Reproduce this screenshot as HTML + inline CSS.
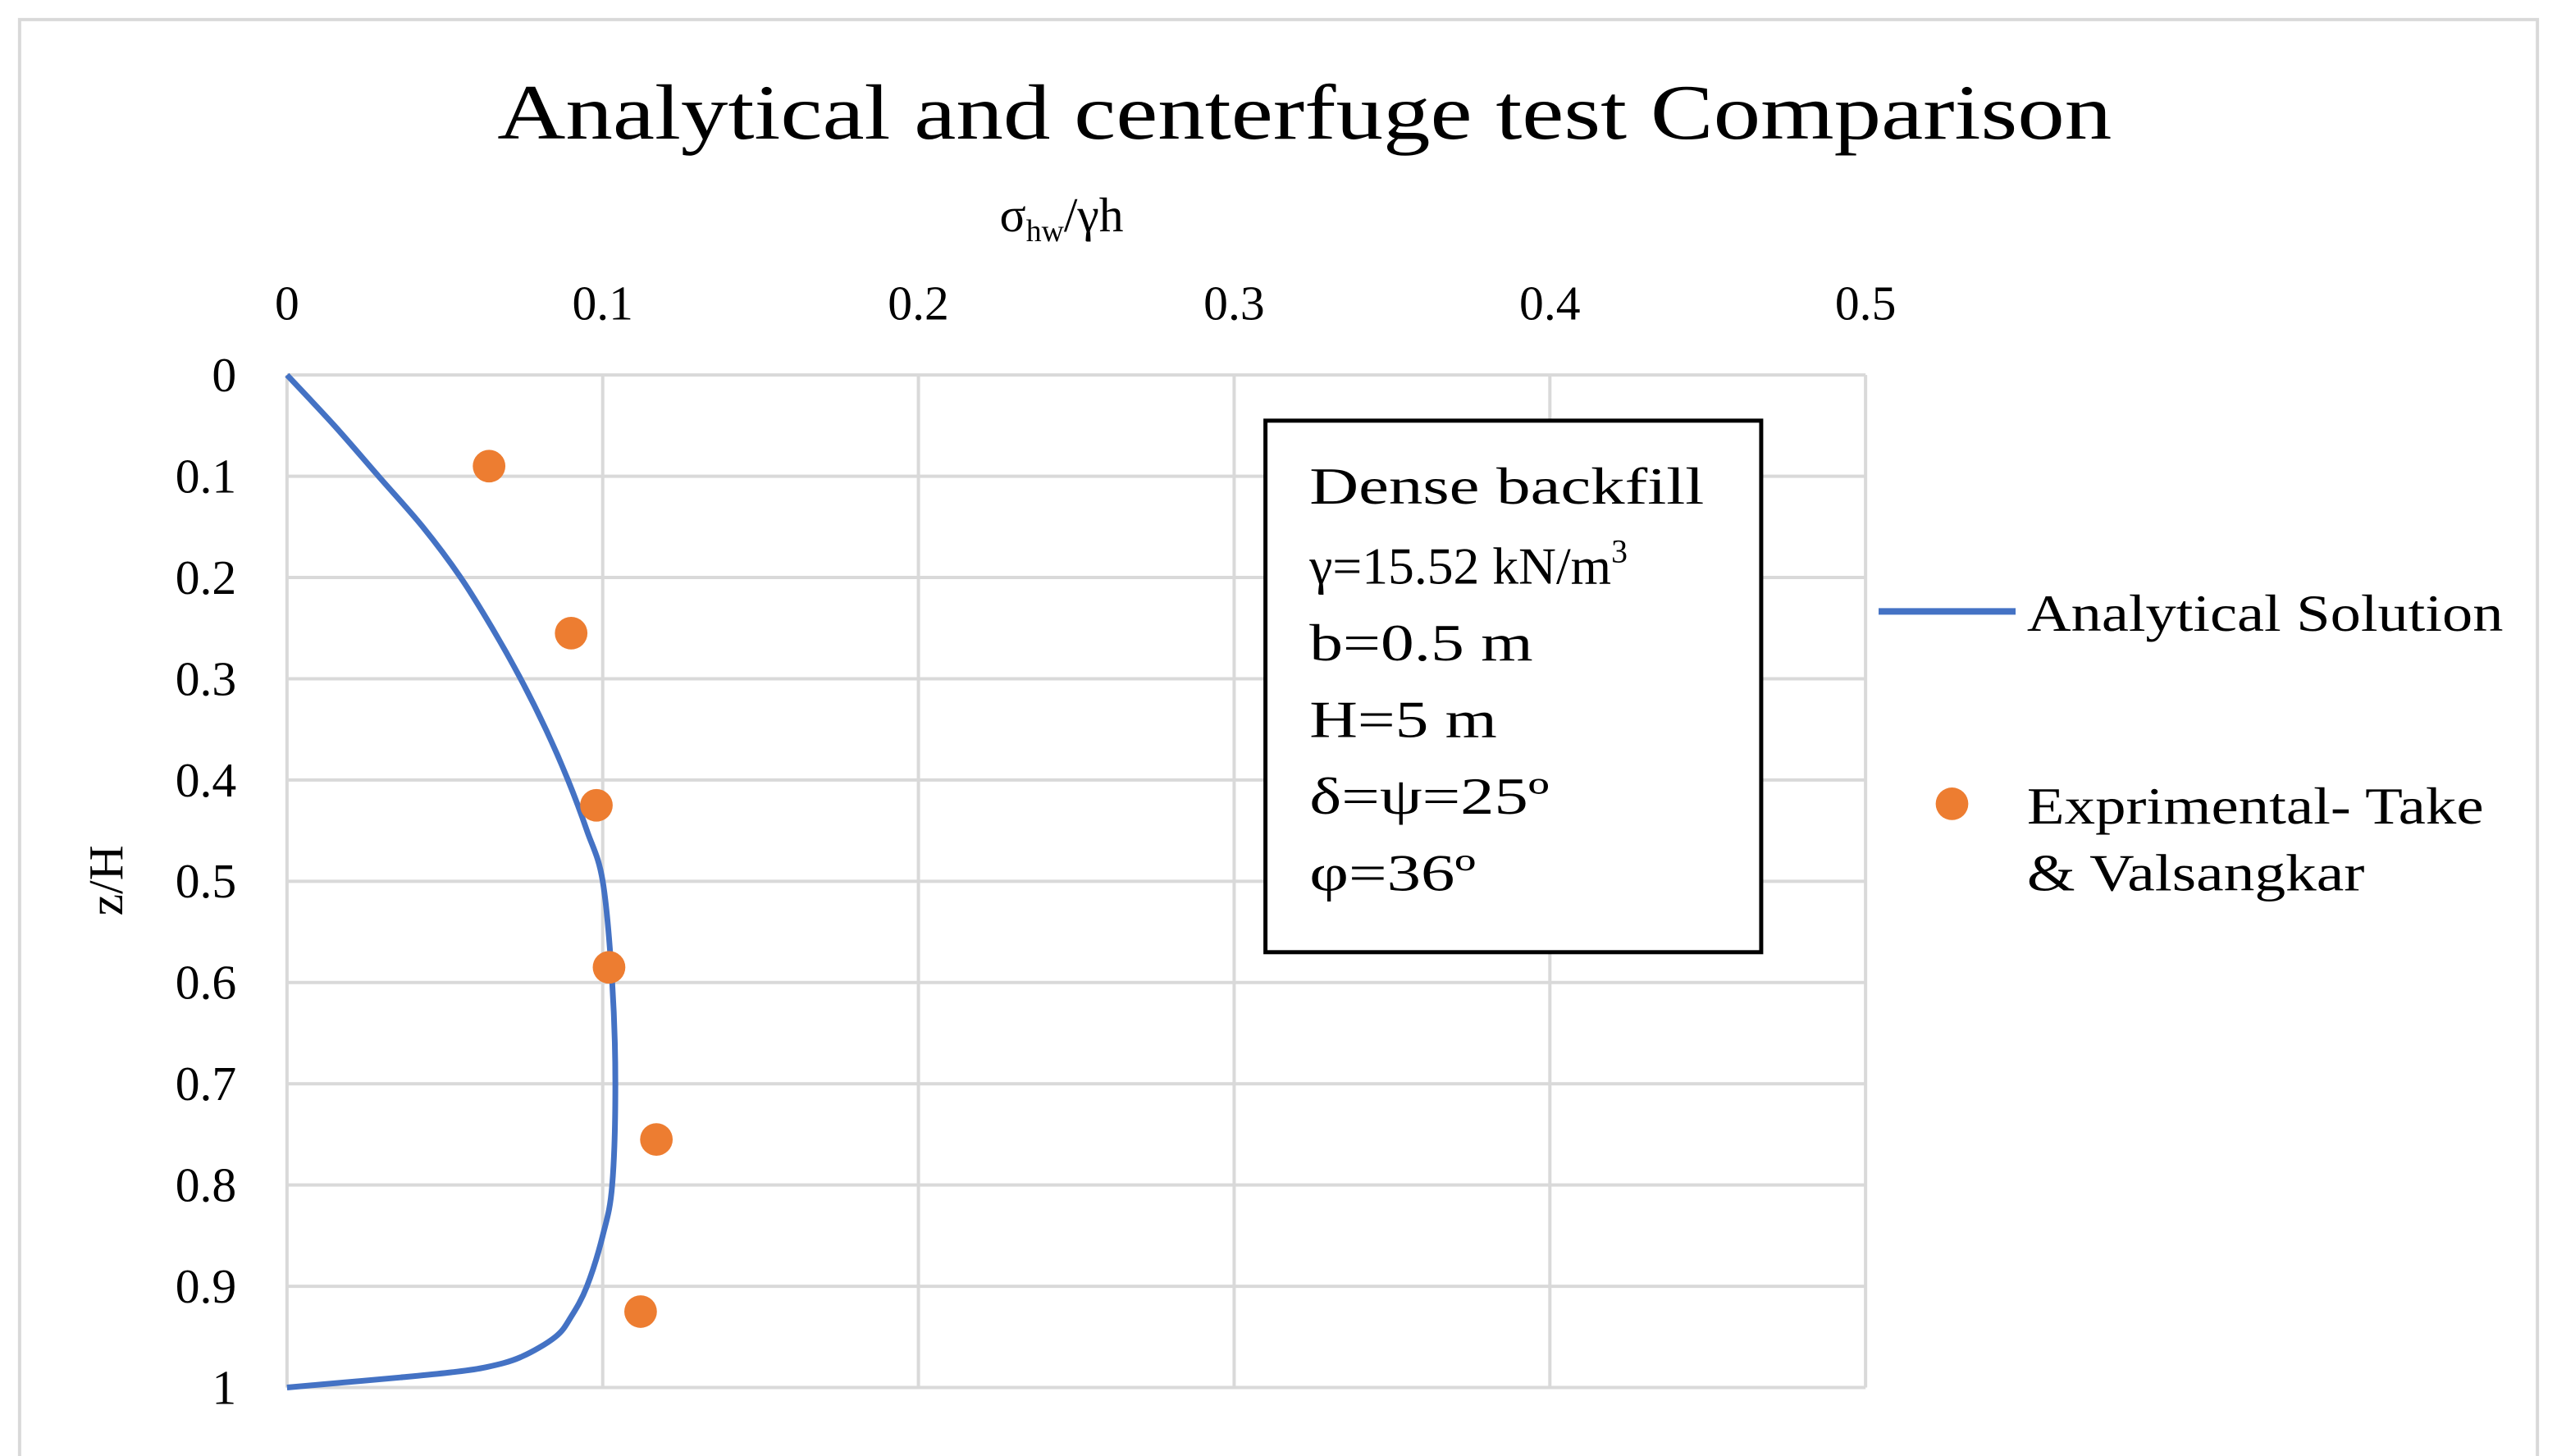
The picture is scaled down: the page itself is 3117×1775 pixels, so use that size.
<!DOCTYPE html>
<html><head><meta charset="utf-8"><style>html,body{margin:0;padding:0;background:#fff}svg{display:block}</style></head>
<body>
<svg id="chart" width="3117" height="1775" viewBox="0 0 1568 893" preserveAspectRatio="none" xmlns="http://www.w3.org/2000/svg" font-family="'Liberation Serif', serif">
<rect x="12" y="12" width="1544" height="900" fill="#fff" stroke="#d9d9d9" stroke-width="2"/>
<text x="305" y="85" font-size="48" textLength="990" lengthAdjust="spacingAndGlyphs">Analytical and centerfuge test Comparison</text>
<text x="613" y="142" font-size="30">σ<tspan font-size="19" dy="6">hw</tspan><tspan dy="-6">/γh</tspan></text>
<text x="75" y="540" font-size="30" text-anchor="middle" transform="rotate(-90 75 540)">z/H</text>
<g id="grid"></g><g id="ticks"></g><g id="series"></g>
<rect x="776" y="258" width="304" height="326" fill="#fff" stroke="#000" stroke-width="2.5"/>
<g font-size="32">
<text x="803" y="309" textLength="242" lengthAdjust="spacingAndGlyphs">Dense backfill</text>
<text x="803" y="358">γ=15.52 kN/m<tspan font-size="20" dy="-13">3</tspan></text>
<text x="803" y="405" textLength="137" lengthAdjust="spacingAndGlyphs">b=0.5 m</text>
<text x="803" y="452" textLength="115" lengthAdjust="spacingAndGlyphs">H=5 m</text>
<text x="803" y="499" textLength="147" lengthAdjust="spacingAndGlyphs">δ=ψ=25º</text>
<text x="803" y="546" textLength="102" lengthAdjust="spacingAndGlyphs">φ=36º</text>
</g>
<g><line x1="1152" y1="375" x2="1236" y2="375" stroke="#4472c4" stroke-width="4"/><text x="1243" y="387" font-size="32" textLength="292" lengthAdjust="spacingAndGlyphs">Analytical Solution</text></g>
<g><circle cx="1197" cy="493" r="10" fill="#ed7d31"/><text x="1243" y="505" font-size="32" textLength="280" lengthAdjust="spacingAndGlyphs">Exprimental- Take</text><text x="1243" y="546" font-size="32" textLength="207" lengthAdjust="spacingAndGlyphs">&amp; Valsangkar</text></g>
</svg>
<script>
const xTicks=[0,0.1,0.2,0.3,0.4,0.5];
const yTicks=[0,0.1,0.2,0.3,0.4,0.5,0.6,0.7,0.8,0.9,1];
const analyticalZ=[0,0.05,0.1,0.15,0.2,0.25,0.3,0.35,0.4,0.45,0.5,0.6,0.7,0.8,0.85,0.9,0.93,0.95,0.97,0.98,0.985,0.99,0.995,1];
const analyticalS=[0,0.015,0.029,0.043,0.055,0.065,0.074,0.082,0.089,0.095,0.100,0.103,0.104,0.103,0.100,0.095,0.090,0.085,0.074,0.063,0.052,0.036,0.018,0];
const expZ=[0.09,0.255,0.425,0.585,0.755,0.925];
const expS=[0.064,0.090,0.098,0.102,0.117,0.112];
const NS='http://www.w3.org/2000/svg';
const X=v=>176+v*1936, Y=v=>230+v*621;
function mk(t,a,p){const e=document.createElementNS(NS,t);for(const k in a)e.setAttribute(k,a[k]);p.appendChild(e);return e;}
const grid=document.getElementById('grid'),ticks=document.getElementById('ticks'),series=document.getElementById('series');
xTicks.forEach(v=>{const l=mk('line',{x1:X(v),x2:X(v),y1:Y(0),y2:Y(1),stroke:'#d9d9d9','stroke-width':2},grid);


const t=mk('text',{x:X(v),y:196,'font-size':30,'text-anchor':'middle'},ticks);t.textContent=String(v);

});
yTicks.forEach(v=>{const l=mk('line',{x1:X(0),x2:X(0.5),y1:Y(v),y2:Y(v),stroke:'#d9d9d9','stroke-width':2},grid);


const t=mk('text',{x:145,y:Y(v)+10,'font-size':30,'text-anchor':'end'},ticks);t.textContent=String(v);

});
const pts=analyticalZ.map((z,i)=>[X(analyticalS[i]),Y(z)]);
let d='M'+pts[0][0]+','+pts[0][1];
for(let i=0;i<pts.length-1;i++){const p0=pts[Math.max(0,i-1)],p1=pts[i],p2=pts[i+1],p3=pts[Math.min(pts.length-1,i+2)];
d+=` C${p1[0]+(p2[0]-p0[0])/6},${p1[1]+(p2[1]-p0[1])/6} ${p2[0]-(p3[0]-p1[0])/6},${p2[1]-(p3[1]-p1[1])/6} ${p2[0]},${p2[1]}`;}
const path=mk('path',{d:d,fill:'none',stroke:'#4472c4','stroke-width':3.5},series);


expZ.forEach((z,i)=>{const c=mk('circle',{cx:X(expS[i]),cy:Y(z),r:10,fill:'#ed7d31'},series);

});
</script>
</body></html>
